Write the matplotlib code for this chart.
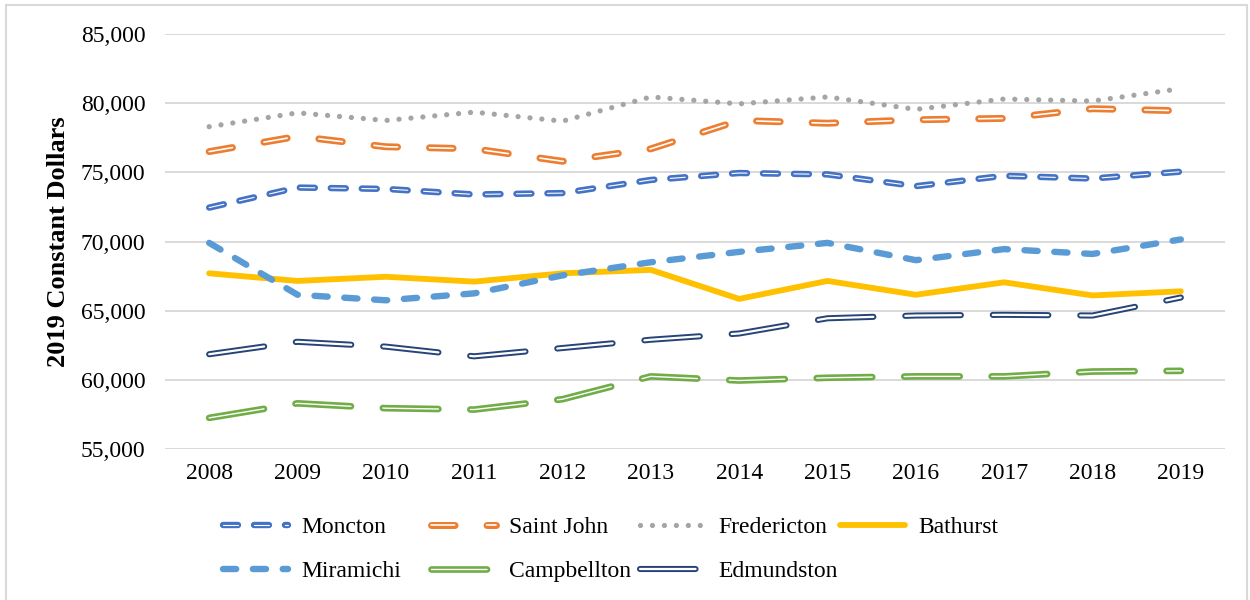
import matplotlib
matplotlib.use("Agg")
import matplotlib.pyplot as plt
from matplotlib.patches import Rectangle
from matplotlib.legend_handler import HandlerTuple
from matplotlib.ticker import FuncFormatter

plt.rcParams['font.family'] = ['Liberation Serif', 'DejaVu Serif']
plt.rcParams['lines.scale_dashes'] = False

years = ['2008', '2009', '2010', '2011', '2012', '2013', '2014', '2015', '2016', '2017', '2018', '2019']

moncton = [72450, 73900, 73800, 73400, 73500, 74450, 74950, 74850, 74000, 74750, 74550, 75050]
saint_john = [76500, 77600, 76850, 76700, 75800, 76700, 78750, 78550, 78800, 78900, 79600, 79450]
fredericton = [78300, 79300, 78750, 79350, 78700, 80450, 79950, 80450, 79550, 80300, 80150, 81050]
bathurst = [67700, 67150, 67450, 67100, 67700, 67950, 65850, 67150, 66150, 67050, 66100, 66400]
miramichi = [69900, 66150, 65750, 66250, 67550, 68500, 69250, 69900, 68650, 69450, 69100, 70150]
campbellton = [57250, 58300, 57950, 57850, 58600, 60250, 59950, 60150, 60250, 60250, 60600, 60650]
edmundston = [61850, 62750, 62400, 61700, 62300, 62900, 63350, 64450, 64650, 64700, 64650, 65950]

names = ['Moncton', 'Saint John', 'Fredericton', 'Bathurst', 'Miramichi', 'Campbellton', 'Edmundston']
series = [moncton, saint_john, fredericton, bathurst, miramichi, campbellton, edmundston]
colors = ['#4472C4', '#ED7D31', '#A5A5A5', '#FFC000', '#5B9BD5', '#70AD47', '#264478']

# (outer lw, dashes or None, inner white lw or None)
styles = [
    (4.6, (10.8, 11.5), 0.8),
    (5.0, (17.0, 23.0), 1.2),
    (3.8, (0.01, 8.6), None),
    (4.2, None, None),
    (4.6, (9.5, 12.0), None),
    (4.8, (40.0, 23.0), 1.0),
    (4.4, (40.0, 23.0), 1.6),
]

fig = plt.figure(figsize=(12.5, 6), dpi=100)
ax = fig.add_axes([165 / 1250, 1 - 449 / 600, 1060 / 1250, 415 / 600])

x = list(range(len(years)))
handles = []
for name, vals, col, (lw, dash, inner) in zip(names, series, colors, styles):
    kw = dict(color=col, lw=lw, solid_capstyle='round', dash_capstyle='round')
    if dash is not None:
        kw['linestyle'] = (0, dash)
    l1, = ax.plot(x, vals, **kw)
    if inner is not None:
        kw2 = dict(color='white', lw=inner, solid_capstyle='round', dash_capstyle='round')
        if dash is not None:
            kw2['linestyle'] = (0, dash)
        l2, = ax.plot(x, vals, **kw2)
        handles.append((l1, l2))
    else:
        handles.append(l1)

ax.set_xlim(-0.5, len(years) - 0.5)
ax.set_ylim(55000, 85000)
ax.set_yticks(range(55000, 85001, 5000))
ax.yaxis.set_major_formatter(FuncFormatter(lambda v, p: f'{int(v):,}'))
ax.set_xticks(x)
ax.set_xticklabels(years)
ax.grid(axis='y', color='#D9D9D9', lw=1.4)
ax.set_axisbelow(True)
for s in ax.spines.values():
    s.set_visible(False)
ax.tick_params(axis='both', length=0, labelsize=17, colors='black')
ax.tick_params(axis='y', pad=14)
ax.tick_params(axis='x', pad=10)
ax.set_ylabel('2019 Constant Dollars', fontsize=19, fontweight='bold', labelpad=8)

# Legend: fixed-position entries (4 columns, 2 rows)
col_x = [223, 431, 640, 840]
row_y = [527, 571]
for i, (h, name) in enumerate(zip(handles, names)):
    r, c = divmod(i, 4)
    hm = {tuple: HandlerTuple(ndivide=1, pad=0)}
    fig.legend([h], [name], loc='center left',
               bbox_to_anchor=(col_x[c] / 1250, 1 - row_y[r] / 600),
               frameon=False, fontsize=17, handlelength=2.75, handletextpad=0.55,
               borderpad=0, borderaxespad=0, handler_map=hm)

fig.patches.append(Rectangle((6 / 1250, -0.05), 1241 / 1250, 1.05 - 5 / 600,
                             transform=fig.transFigure, fill=False,
                             edgecolor='#D9D9D9', lw=1.5))

fig.savefig('out.png', dpi=100)
